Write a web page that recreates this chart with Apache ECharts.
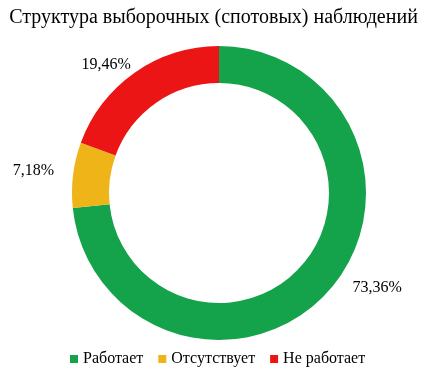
<!DOCTYPE html>
<html><head><meta charset="utf-8">
<script src="https://cdn.jsdelivr.net/npm/echarts@6/dist/echarts.min.js"></script>
<style>html,body{margin:0;padding:0;background:#fff}#c{width:427px;height:383px}</style>
</head><body><div id="c"></div>
<script>
const titleText = 'Структура выборочных (спотовых) наблюдений';
const categories = ['Работает', 'Отсутствует', 'Не работает'];
const values = [73.36, 7.18, 19.46];
const colors = ['#14a24b', '#efb418', '#eb1516'];

const serif = '"Liberation Serif", "Times New Roman", serif';
const labelShift = [[4, -10], [4, -3], [15, 0]];
const chart = echarts.init(document.getElementById('c'));
chart.setOption({
  animation: false,
  textStyle: {fontFamily: serif},
  title: {text: titleText, left: 'center', top: 3,
    textStyle: {fontFamily: serif, fontSize: 20, fontWeight: 'normal', color: '#000'}},
  legend: {data: categories, bottom: 11, left: 65, icon: 'rect', itemWidth: 8, itemHeight: 8, itemGap: 15,
    textStyle: {fontFamily: serif, fontSize: 16, color: '#000'}},
  color: colors,
  series: [{
    type: 'pie', center: [219, 193], radius: [110, 147], startAngle: 90, clockwise: true,
    avoidLabelOverlap: false,
    label: {show: true, position: 'outside', fontFamily: serif, fontSize: 16, color: '#000',
      formatter: p => p.value.toFixed(2).replace('.', ',') + '%'},
    labelLine: {show: false, length: 10, length2: 8},
    labelLayout: p => ({dx: labelShift[p.dataIndex][0], dy: labelShift[p.dataIndex][1]}),
    data: categories.map((c, i) => ({name: c, value: values[i]}))
  }]
});
</script></body></html>
